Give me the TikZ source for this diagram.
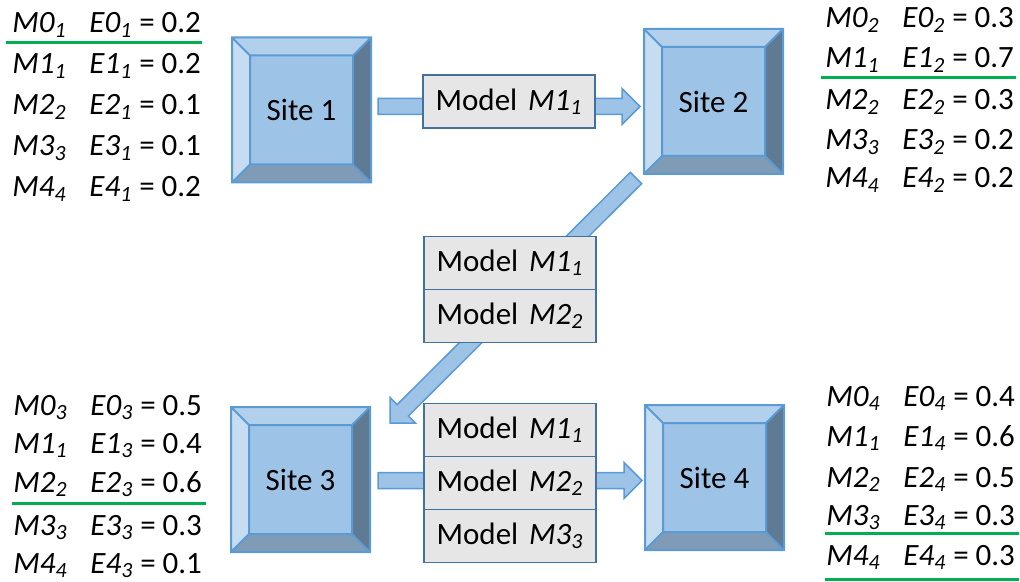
\documentclass[tikz,border=0pt]{standalone}
\usepackage{fontspec}
\setmainfont{Carlito}
\usetikzlibrary{positioning,calc}

\definecolor{sitefill}{HTML}{9DC3E6}
\definecolor{siteline}{HTML}{5B9BD5}
\definecolor{bevtop}{HTML}{B2CFEC}
\definecolor{bevleft}{HTML}{C6DDF1}
\definecolor{bevright}{HTML}{5F7A93}
\definecolor{bevbot}{HTML}{7F9BB6}
\definecolor{modelfill}{HTML}{E7E6E6}
\definecolor{modelline}{HTML}{41719C}
\definecolor{bestline}{HTML}{00B050}

\newcommand{\mi}[2]{\textit{#1\textsubscript{#2}}}
\newcommand{\lrow}[5]{\makebox[38.5pt][l]{\mi{#1}{#2}}\mi{#3}{#4} = #5}
\newcommand{\blockarrow}[2]{%
  \coordinate (hb) at ($(#2)!9pt!(#1)$);
  \filldraw[barrow] ($(#1)!4pt!90:(#2)$) -- ($(hb)!4pt!90:(#2)$) -- ($(hb)!9pt!90:(#2)$)
    -- (#2) -- ($(hb)!9pt!-90:(#2)$) -- ($(hb)!4pt!-90:(#2)$) -- ($(#1)!4pt!-90:(#2)$) -- cycle;}

\tikzset{
  site/.style={draw=siteline, line width=1pt, fill=sitefill, minimum width=68.5pt,
    minimum height=71.5pt, inner sep=0pt, font=\fontsize{15.5}{18}\selectfont},
  model/.style={draw=modelline, line width=0.75pt, fill=modelfill, minimum width=86pt,
    minimum height=26.5pt, inner sep=0pt, outer sep=0pt, font=\fontsize{15.5}{18}\selectfont},
  lbl/.style={anchor=base west, inner sep=0pt, font=\fontsize{15.5}{18}\selectfont},
  barrow/.style={draw=siteline, line width=0.75pt, fill=sitefill},
  best/.style={draw=bestline, line width=1.5pt}
}

\begin{document}
\begin{tikzpicture}[x=0.5pt,y=-0.5pt]
\useasboundingbox (0,0) rectangle (1020,582);

% Sites
\node[site] (site1) at (301.5,110) {Site 1};
\node[site] (site2) at (713.5,101.5) {Site 2};
\node[site] (site3) at (300.5,479.5) {Site 3};
\node[site] (site4) at (714.5,477.5) {Site 4};

% Bevels
\foreach \s in {site1,site2,site3,site4}{
  \path ($(\s.north west)+(9pt,-9pt)$) coordinate (\s-a)
        ($(\s.north east)+(-9pt,-9pt)$) coordinate (\s-b)
        ($(\s.south east)+(-9pt,9pt)$) coordinate (\s-c)
        ($(\s.south west)+(9pt,9pt)$) coordinate (\s-d);
  \fill[bevtop] (\s.north west) -- (\s.north east) -- (\s-b) -- (\s-a) -- cycle;
  \fill[bevright] (\s.north east) -- (\s.south east) -- (\s-c) -- (\s-b) -- cycle;
  \fill[bevbot] (\s.south east) -- (\s.south west) -- (\s-d) -- (\s-c) -- cycle;
  \fill[bevleft] (\s.south west) -- (\s.north west) -- (\s-a) -- (\s-d) -- cycle;
  \draw[siteline, line width=1pt] (\s.north west) rectangle (\s.south east)
    (\s-a) rectangle (\s-c)
    (\s.north west) -- (\s-a) (\s.north east) -- (\s-b)
    (\s.south east) -- (\s-c) (\s.south west) -- (\s-d);
}

% Arrows between sites
\coordinate (a1) at (378,106.5);
\coordinate (b1) at (640,106.5);
\coordinate (a2) at (636,178);
\coordinate (b2) at (390,423);
\coordinate (a3) at (378,480.5);
\coordinate (b3) at (642,480.5);
\blockarrow{a1}{b1}
\blockarrow{a2}{b2}
\blockarrow{a3}{b3}

% Models sent
\node[model] (m11) at (509,101.5) {Model\hspace{0.35em}\mi{M1}{1}};
\node[model] (m21) at (510,263) {Model\hspace{0.35em}\mi{M1}{1}};
\node[model, below=0pt of m21] (m22) {Model\hspace{0.35em}\mi{M2}{2}};
\node[model] (m31) at (510,430) {Model\hspace{0.35em}\mi{M1}{1}};
\node[model, below=0pt of m31] (m32) {Model\hspace{0.35em}\mi{M2}{2}};
\node[model, below=0pt of m32] (m33) {Model\hspace{0.35em}\mi{M3}{3}};

% Error tables
\foreach \k/\j/\v/\y in {0/1/0.2/33, 1/1/0.2/74, 2/2/0.1/115, 3/3/0.1/156, 4/4/0.2/197}
  \node[lbl] (ta\k) at (12,\y) {\lrow{M\k}{\j}{E\k}{1}{\v}};
\foreach \k/\j/\v/\y in {0/2/0.3/28, 1/1/0.7/68, 2/2/0.3/110, 3/3/0.2/150, 4/4/0.2/188}
  \node[lbl] (tb\k) at (825,\y) {\lrow{M\k}{\j}{E\k}{2}{\v}};
\foreach \k/\j/\v/\y in {0/3/0.5/415, 1/1/0.4/453, 2/2/0.6/492, 3/3/0.3/535, 4/4/0.1/573}
  \node[lbl] (tc\k) at (13,\y) {\lrow{M\k}{\j}{E\k}{3}{\v}};
\foreach \k/\j/\v/\y in {0/4/0.4/406, 1/1/0.6/446, 2/2/0.5/487, 3/3/0.3/525, 4/4/0.3/565}
  \node[lbl] (td\k) at (826,\y) {\lrow{M\k}{\j}{E\k}{4}{\v}};

% Best models
\draw[best] (6,43) -- (202,43);
\draw[best] (821,78) -- (1016,78);
\draw[best] (12,503) -- (206,503);
\draw[best] (825,533) -- (1019,533);
\draw[best] (825,579) -- (1019,579);
\end{tikzpicture}
\end{document}
